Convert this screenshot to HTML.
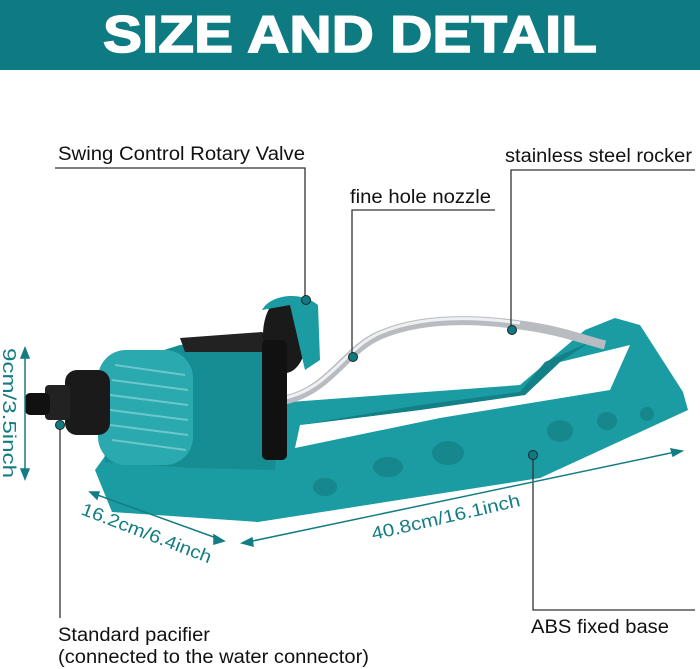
<!DOCTYPE html>
<html><head><style>
body{margin:0;background:#fff;}
svg{display:block;}
text{font-family:"Liberation Sans",sans-serif;}
</style></head><body>
<svg width="700" height="669" viewBox="0 0 700 669">
<rect x="0" y="0" width="700" height="70" fill="#0d7b81"/>
<text x="103" y="52" textLength="494" lengthAdjust="spacingAndGlyphs" fill="#fff" font-size="52" font-weight="bold" stroke="#fff" stroke-width="1.5">SIZE AND DETAIL</text>

<path d="M95,470 L108,452 L290,402 L520,385 L585,330 L615,318 L640,325 L683,392 L688,410 L540,478 L258,522 L112,512 Z" fill="#1a9ca2"/>
<path d="M295,448 L300,425 L420,410 L525,395 L560,362 L630,345 L610,390 L440,418 Z" fill="#fff"/>
<path d="M300,425 L420,405 L520,392 L545,362 L590,342 L560,362 L525,395 L420,410 Z" fill="#137f86"/>
<ellipse cx="325" cy="487" rx="12" ry="9" fill="#15878d"/>
<ellipse cx="388" cy="467" rx="15" ry="10" fill="#15878d"/>
<ellipse cx="448" cy="453" rx="16" ry="12" fill="#15878d"/>
<ellipse cx="560" cy="431" rx="13" ry="11" fill="#15878d"/>
<ellipse cx="607" cy="421" rx="10" ry="9" fill="#15878d"/>
<ellipse cx="647" cy="414" rx="7" ry="7" fill="#15878d"/>
<path d="M285,400 C330,390 345,350 380,335 C420,318 470,318 520,325 C560,330 585,340 605,345" fill="none" stroke="#b8bcc0" stroke-width="9"/>
<path d="M285,398 C330,388 345,348 380,333 C420,316 470,316 520,323" fill="none" stroke="#eef0f2" stroke-width="3"/>
<path d="M180,345 L265,342 L282,380 L275,470 L190,468 L105,462 L100,370 Z" fill="#158d93"/>
<rect x="98" y="350" width="95" height="115" rx="28" fill="#2aa9af"/>
<g stroke="#6cc7cc" stroke-width="2">
<line x1="115" y1="365" x2="185" y2="375"/><line x1="112" y1="380" x2="188" y2="390"/>
<line x1="110" y1="395" x2="188" y2="405"/><line x1="110" y1="410" x2="188" y2="420"/>
<line x1="110" y1="425" x2="188" y2="435"/><line x1="112" y1="440" x2="186" y2="450"/>
</g>
<path d="M180,338 L262,332 L280,345 L270,352 L185,352 Z" fill="#222"/>
<ellipse cx="285" cy="335" rx="22" ry="38" fill="#1a1a1a"/>
<path d="M262,310 C270,295 300,290 318,305 L320,360 L305,370 L290,305 Z" fill="#1a9ca2"/>
<rect x="262" y="340" width="25" height="120" fill="#111" rx="5"/>
<rect x="65" y="370" width="45" height="65" rx="12" fill="#1a1a1a"/>
<rect x="45" y="385" width="25" height="35" rx="4" fill="#222"/>
<rect x="25" y="393" width="25" height="22" rx="5" fill="#111"/>

<g stroke="#333" stroke-width="1.3" fill="none">
<polyline points="55,168 305,168 305,300"/>
<polyline points="495,210 352,210 352,357"/>
<polyline points="695,170 511,170 511,329"/>
<polyline points="60,425 60,618"/>
<polyline points="533,455 533,610 695,610"/>
</g>
<g fill="#0d7b81" stroke="#222" stroke-width="1">
<circle cx="306" cy="300" r="4.5"/><circle cx="353" cy="357" r="4.5"/>
<circle cx="512" cy="330" r="4.5"/><circle cx="60" cy="425" r="4.5"/>
<circle cx="533" cy="455" r="4.5"/>
</g>
<g font-size="19" fill="#111">
<text x="58" y="160" textLength="247" lengthAdjust="spacingAndGlyphs">Swing Control Rotary Valve</text>
<text x="350" y="203" textLength="141" lengthAdjust="spacingAndGlyphs">fine hole nozzle</text>
<text x="505" y="162" textLength="187" lengthAdjust="spacingAndGlyphs">stainless steel rocker</text>
<text x="58" y="641" textLength="152" lengthAdjust="spacingAndGlyphs">Standard pacifier</text>
<text x="58" y="663" textLength="311" lengthAdjust="spacingAndGlyphs">(connected to the water connector)</text>
<text x="531" y="633" textLength="138" lengthAdjust="spacingAndGlyphs">ABS fixed base</text>
</g>

<g stroke="#137d83" stroke-width="1.5" fill="#137d83">
<line x1="25" y1="352" x2="25" y2="475"/>
<path d="M21,358 L25,348 L29,358 Z"/><path d="M21,469 L25,479 L29,469 Z"/>
<line x1="92" y1="493" x2="222" y2="540"/>
<path d="M99,492 L90,492 L97,499 Z"/><path d="M214,535 L224,541 L214,544 Z"/>
<line x1="243" y1="543" x2="680" y2="451"/>
<path d="M252,538 L242,543 L253,546 Z"/><path d="M671,449 L682,451 L673,456 Z"/>
</g>
<g fill="#137d83" font-size="18">
<text transform="translate(3,348) rotate(90)" textLength="130" lengthAdjust="spacingAndGlyphs">9cm/3.5inch</text>
<text transform="translate(80,514) rotate(21)" textLength="138" lengthAdjust="spacingAndGlyphs">16.2cm/6.4inch</text>
<text transform="translate(373,540) rotate(-13)" textLength="152" lengthAdjust="spacingAndGlyphs">40.8cm/16.1inch</text>
</g>
</svg>
</body></html>
